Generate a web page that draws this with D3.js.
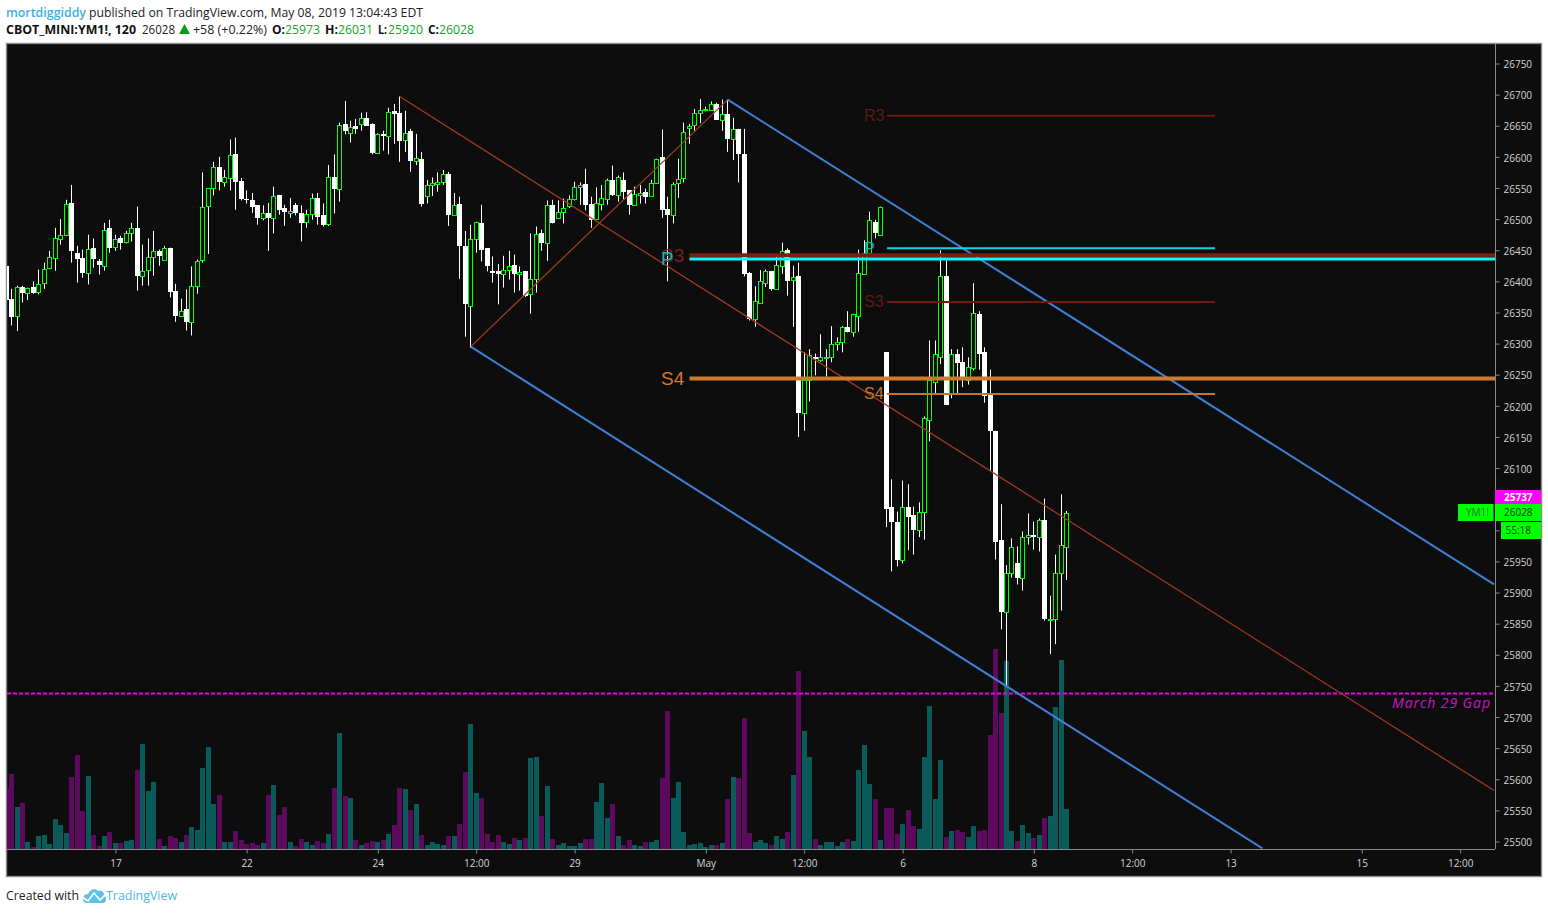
<!DOCTYPE html>
<html>
<head>
<meta charset="utf-8">
<title>YM1! 120</title>
<script src="https://cdnjs.cloudflare.com/ajax/libs/d3/7.8.5/d3.min.js"></script>
<style>
html,body{margin:0;padding:0;background:#fff;overflow:hidden}
svg{display:block}
text{font-family:"Open Sans","Noto Sans",sans-serif}
</style>
</head>
<body>
<script>
const opens=[26425,26371,26344,26391,26382,26391,26383,26397,26421,26437,
26468,26474,26526,26446,26438,26413,26453,26432,26425,26485,
26455,26469,26464,26477,26486,26408,26418,26439,26449,26435,
26454,26385,26345,26355,26335,26392,26434,26521,26550,26583,
26559,26566,26604,26562,26533,26531,26522,26501,26510,26501,
26539,26518,26510,26523,26510,26495,26508,26534,26506,26492,
26568,26549,26652,26639,26649,26652,26662,26653,26607,26637,
26633,26673,26671,26627,26641,26594,26597,26537,26555,26557,
26559,26573,26507,26525,26457,26361,26468,26494,26453,26417,
26417,26411,26419,26427,26411,26416,26380,26403,26478,26461,
26523,26501,26511,26521,26532,26552,26557,26525,26500,26525,
26533,26563,26538,26563,26547,26522,26538,26544,26537,26558,
26599,26517,26506,26558,26566,26647,26651,26670,26675,26676,
26685,26660,26669,26628,26645,26605,26414,26339,26366,26398,
26416,26387,26424,26450,26402,26408,26188,26242,26278,26273,
26277,26278,26300,26302,26326,26318,26345,26411,26446,26496,
26475,26286,26037,26014,25952,26037,26024,26001,26029,26178,
26239,26279,26409,26220,26284,26270,26242,26260,26347,26286,
26217,26160,25984,25868,25932,25948,25923,25990,25992,25989,
26017,25857,25857,25931,25973];
const closes=[26370,26343,26391,26382,26389,26381,26396,26420,26439,26470,
26474,26524,26448,26436,26414,26452,26436,26427,26483,26454,
26468,26462,26478,26486,26409,26417,26439,26449,26440,26454,
26383,26345,26352,26334,26393,26433,26520,26550,26584,26560,
26568,26603,26560,26533,26530,26520,26501,26510,26501,26537,
26515,26512,26513,26509,26494,26508,26534,26504,26491,26568,
26549,26651,26641,26648,26645,26662,26650,26607,26637,26634,
26672,26669,26626,26638,26594,26598,26525,26555,26558,26560,
26572,26506,26523,26456,26363,26468,26495,26451,26424,26414,
26412,26418,26425,26411,26415,26377,26404,26476,26461,26523,
26493,26511,26518,26532,26552,26555,26522,26499,26526,26534,
26563,26538,26567,26544,26522,26540,26542,26536,26558,26597,
26515,26506,26556,26564,26640,26650,26671,26675,26677,26685,
26660,26669,26629,26644,26604,26411,26340,26368,26401,26416,
26387,26426,26449,26400,26407,26188,26242,26281,26276,26278,
26278,26300,26303,26326,26318,26347,26414,26446,26498,26477,
26519,26034,26014,25952,26037,26022,26001,26030,26180,26241,
26283,26409,26202,26283,26268,26241,26262,26349,26284,26215,
26159,25982,25868,25932,25973,25923,25990,25993,25989,26017,
25857,25858,25932,25976,26028];
const highs=[26428,26388,26393,26393,26390,26400,26419,26430,26449,26486,
26500,26531,26555,26457,26451,26475,26469,26436,26494,26499,
26475,26473,26481,26494,26520,26459,26469,26481,26451,26457,
26454,26396,26372,26387,26424,26435,26575,26550,26592,26600,
26579,26628,26631,26566,26546,26542,26522,26522,26526,26552,
26539,26523,26534,26526,26522,26515,26541,26542,26525,26587,
26604,26655,26690,26658,26661,26671,26672,26654,26638,26642,
26679,26685,26697,26674,26645,26637,26608,26563,26567,26575,
26579,26576,26542,26536,26481,26491,26496,26523,26453,26440,
26428,26441,26449,26443,26424,26416,26477,26488,26483,26530,
26531,26530,26533,26538,26560,26559,26581,26536,26551,26555,
26565,26586,26570,26575,26547,26552,26555,26549,26563,26597,
26644,26536,26559,26597,26655,26653,26677,26693,26681,26689,
26687,26692,26692,26663,26645,26645,26415,26392,26418,26419,
26417,26439,26462,26453,26425,26430,26286,26291,26284,26315,
26291,26328,26310,26328,26352,26348,26451,26466,26512,26499,
26520,26286,26082,26030,26080,26074,26038,26045,26183,26305,
26305,26450,26434,26291,26291,26294,26278,26397,26352,26294,
26258,26160,26042,25944,25987,25974,25998,26027,26014,26019,
26051,25895,25961,26058,26031];
const lows=[26360,26329,26320,26366,26370,26380,26379,26388,26420,26417,
26459,26474,26430,26398,26406,26395,26422,26411,26417,26446,
26449,26451,26461,26464,26385,26393,26393,26409,26425,26435,
26374,26335,26345,26321,26313,26380,26430,26444,26538,26546,
26552,26546,26515,26530,26525,26510,26491,26498,26449,26477,
26507,26489,26502,26506,26464,26486,26499,26491,26488,26489,
26509,26528,26636,26623,26637,26642,26650,26604,26605,26610,
26604,26621,26592,26608,26576,26587,26520,26525,26537,26544,
26555,26489,26506,26404,26311,26293,26446,26432,26416,26398,
26363,26390,26403,26382,26385,26375,26348,26382,26449,26433,
26493,26501,26493,26518,26530,26523,26514,26486,26499,26514,
26523,26537,26528,26531,26507,26522,26525,26525,26536,26557,
26502,26400,26493,26534,26559,26621,26642,26654,26673,26676,
26660,26642,26608,26595,26559,26408,26337,26327,26365,26391,
26385,26387,26412,26377,26327,26150,26160,26207,26249,26271,
26247,26270,26289,26286,26318,26311,26319,26411,26446,26469,
26474,26005,25934,25942,25947,25968,25961,25989,25985,26143,
26220,26267,26202,26212,26218,26230,26234,26257,26258,26205,
26095,25953,25841,25748,25924,25913,25903,25977,25969,25966,
25855,25801,25817,25871,25920];
const volumes=[184,226,127,139,22,7,40,43,16,91,
73,49,217,283,115,220,43,10,40,52,
19,19,25,28,238,316,175,202,31,10,
40,34,22,43,67,58,244,307,136,163,
22,22,55,28,16,19,13,19,163,193,
103,127,22,10,31,22,13,25,19,46,
184,349,160,154,28,13,19,25,22,28,
46,73,184,181,118,136,43,13,22,16,
13,40,40,76,232,376,169,154,46,22,
43,22,16,34,28,34,274,277,100,190,
31,13,19,10,10,19,31,31,142,199,
94,136,40,13,28,13,10,22,22,28,
214,415,154,202,52,13,16,19,7,13,
13,19,151,217,214,394,49,22,28,19,
13,40,31,52,223,535,355,277,31,13,
22,22,10,22,31,25,238,313,196,151,
28,124,124,46,76,118,70,61,277,430,
151,268,37,55,58,52,37,70,55,58,
343,601,409,565,55,25,73,49,34,43,
94,100,427,568,121];

const priceTicks=d3.range(25500,26751,50);
const priceTicksUnderTags=[26000,26050];
const timeTickBars=[20,44,68,86,104,128,146,164,188,206,224,248,266];
const timeTickLabels=["17","22","24","12:00","29","May","12:00","6","8","12:00","13","15","12:00"];

// drawings in (bar, price)
const channelUpper=[[132,26692],[272.2,25913]];
const channelLower=[[85,26295],[229.8,25489]];
const channelMedian=[[72,26697],[272.2,25582]];
const channelBase=[[85,26295],[132,26692]];
const weeklyLevels=[
 {label:"S3",price:26442,color:"#7a1f12",w:4,labelColor:"#7a1f12"},
 {label:"P",price:26436,color:"#00ffff",w:3,labelColor:"#12b4c0"},
 {label:"S4",price:26244,color:"#cc7a2e",w:4,labelColor:"#d07a2c"}];
const dailyLevels=[
 {label:"R3",price:26666,color:"#6a1c10",labelColor:"#5e1c12"},
 {label:"P",price:26453,color:"#00dcdc",labelColor:"#12b4c0"},
 {label:"S3",price:26367,color:"#6a1c10",labelColor:"#5e1c12"},
 {label:"S4",price:26219,color:"#c4742c",labelColor:"#c4742c"}];
const gapPrice=25737, gapLabel="March 29 Gap", lastPrice=26028;

const W=1548,H=913;
const plot={l:7,r:1495,t:44,b:849};
const x=d3.scaleLinear().domain([0,194]).range([6.1,1066.6]);
const y=d3.scaleLinear().domain([25500,26750]).range([841.5,63.5]);
const vol=d3.scaleLinear().domain([0,601]).range([849,649]);
const bg="#0d0d0d";

const svg=d3.select("body").append("svg").attr("width",W).attr("height",H);
svg.append("rect").attr("x",6.5).attr("y",43.5).attr("width",1535).attr("height",833)
  .attr("fill",bg).attr("stroke","#8a8a8a").attr("stroke-width",1.4);
svg.append("clipPath").attr("id","plot").append("rect")
  .attr("x",plot.l).attr("y",plot.t).attr("width",plot.r-plot.l).attr("height",plot.b-plot.t);
const g=svg.append("g").attr("clip-path","url(#plot)");
const idx=d3.range(opens.length);
const up=i=>closes[i]>=opens[i];
const px=i=>Math.round(x(i)-2.5);

// volume
g.append("g").selectAll("rect").data(idx).join("rect")
  .attr("x",px).attr("width",5)
  .attr("y",i=>Math.round(vol(volumes[i]))).attr("height",i=>plot.b-Math.round(vol(volumes[i])))
  .attr("fill",i=>up(i)?"#0a5a5a":"#5c0a5e");

// wicks
g.append("g").selectAll("line").data(idx).join("line")
  .attr("x1",i=>px(i)+2.5).attr("x2",i=>px(i)+2.5)
  .attr("y1",i=>y(highs[i])).attr("y2",i=>y(lows[i]))
  .attr("stroke","#ffffff").attr("stroke-width",1);

// bodies
g.append("g").selectAll("rect").data(idx).join("rect")
  .attr("x",i=>up(i)?px(i)+0.5:px(i))
  .attr("width",i=>up(i)?4:5)
  .attr("y",i=>{const t=Math.round(y(Math.max(opens[i],closes[i])));return up(i)?t+0.5:t;})
  .attr("height",i=>{
     const t=Math.round(y(Math.max(opens[i],closes[i]))),b=Math.round(y(Math.min(opens[i],closes[i])));
     return Math.max(b-t,1);})
  .attr("fill",i=>up(i)?bg:"#ffffff")
  .attr("stroke",i=>up(i)?"#00ff00":"none").attr("stroke-width",1);

// gap line
g.append("line").attr("x1",plot.l).attr("x2",plot.r).attr("y1",y(gapPrice)-0.5).attr("y2",y(gapPrice)-0.5)
  .attr("stroke","#e600e6").attr("stroke-width",2).attr("stroke-dasharray","4 2");
svg.append("text").attr("x",1392).attr("y",708)
  .attr("font-size",14).attr("font-style","italic").attr("fill","#c814c8")
  .attr("textLength",98).attr("lengthAdjust","spacing").text(gapLabel);

// channel
const line=d3.line().x(d=>x(d[0])).y(d=>y(d[1]));
g.append("path").attr("d",line(channelMedian)).attr("fill","none").attr("stroke","#a83a20").attr("stroke-width",1.2);
g.append("path").attr("d",line(channelBase)).attr("fill","none").attr("stroke","#a83a20").attr("stroke-width",1.2);
g.append("path").attr("d",line(channelUpper)).attr("fill","none").attr("stroke","#3f7fd4").attr("stroke-width",2);
g.append("path").attr("d",line(channelLower)).attr("fill","none").attr("stroke","#3f7fd4").attr("stroke-width",2);

// pivots
const levelFont="'Liberation Sans',sans-serif";
weeklyLevels.forEach(d=>{
  g.append("line").attr("x1",689.5).attr("x2",plot.r).attr("y1",y(d.price)).attr("y2",y(d.price))
    .attr("stroke",d.color).attr("stroke-width",d.w);
  svg.append("text").attr("x",661).attr("y",y(d.price)+6.5).attr("font-size",19)
    .style("font-family",levelFont).attr("fill",d.labelColor).text(d.label);
});
dailyLevels.forEach(d=>{
  g.append("line").attr("x1",887).attr("x2",1215).attr("y1",y(d.price)).attr("y2",y(d.price))
    .attr("stroke",d.color).attr("stroke-width",2);
  svg.append("text").attr("x",864).attr("y",y(d.price)+5.5).attr("font-size",16)
    .style("font-family",levelFont).attr("fill",d.labelColor).text(d.label);
});

// axes
const yAxis=d3.axisRight(y).tickValues(priceTicks).tickSize(4).tickPadding(4)
  .tickFormat(d=>priceTicksUnderTags.includes(d)?"":d3.format("d")(d));
const ya=svg.append("g").attr("transform",`translate(${plot.r+.5},0)`).call(yAxis);
const xAxis=d3.axisBottom(x).tickValues(timeTickBars).tickSize(4).tickPadding(6)
  .tickFormat(d=>timeTickLabels[timeTickBars.indexOf(d)]);
const xa=svg.append("g").attr("transform",`translate(0,${plot.b+.5})`).call(xAxis);
[ya,xa].forEach(a=>{
  a.select(".domain").attr("stroke","#8a8a8a");
  a.selectAll(".tick line").attr("stroke","#8a8a8a");
  a.selectAll(".tick text").attr("fill","#d4d4d4").attr("font-size",10)
   .style("font-family","'Open Sans',sans-serif").attr("font-weight",500);
});
ya.selectAll(".tick text").attr("dy","0.42em");
ya.select(".domain").attr("d",`M0,${plot.t}V${plot.b}`);
xa.select(".domain").attr("d",`M${plot.l},0H${plot.r}`);

// price tags
function tag(x0,x1,y0,y1,fill,txt,color,tx,bold){
  svg.append("rect").attr("x",x0).attr("y",y0).attr("width",x1-x0).attr("height",y1-y0).attr("fill",fill);
  svg.append("text").attr("x",tx).attr("y",(y0+y1)/2+3.6).attr("font-size",10)
    .attr("font-weight",bold?700:500).attr("fill",color).text(txt);
}
tag(1495,1541,490,504,"#ff00ff",String(gapPrice),"#ffffff",1504,true);
tag(1495,1541,504,521,"#00ff00",String(lastPrice),"#0b3a0b",1504,false);
tag(1458,1493.5,504,521,"#00ff00","YM1!","#2a7a2a",1466,false);
tag(1501,1541,522,539,"#00ff00","55:18","#0b3a0b",1505.5,false);

// header
function hdr(tx,ty,txt,len,color,weight){
  svg.append("text").attr("x",tx).attr("y",ty).attr("font-size",12)
    .attr("textLength",len).attr("lengthAdjust","spacingAndGlyphs")
    .attr("fill",color).attr("font-weight",weight||400).text(txt);
}
hdr(6,17,"mortdiggiddy",80,"#3bb0e4",600);
hdr(89,17,"published on TradingView.com, May 08, 2019 13:04:43 EDT",334,"#222");
const hy=34;
hdr(6,hy,"CBOT_MINI:YM1!, 120",130,"#111",700);
hdr(142,hy,"26028",33,"#222");
svg.append("path").attr("d",d3.line()([[179,hy],[190,hy],[184.5,hy-10]])+"Z").attr("fill","#0a9a1e");
hdr(193,hy,"+58 (+0.22%)",74,"#222");
[["O:",272,13,"25973",285],["H:",325,13,"26031",338],["L:",378,9,"25920",388],["C:",428,11,String(lastPrice),439]]
 .forEach(d=>{hdr(d[1],hy,d[0],d[2],"#111",700);hdr(d[4],hy,d[3],35,"#12a52a");});

// footer
hdr(6,900,"Created with",73,"#222");
const lg=svg.append("g").attr("transform","translate(82,888)");
lg.append("path").attr("d","M1,11 C1,7 4,6 6,6 C8,1 13,0 16,3 C19,1 23,5 22,8 C25,9 25,15 21,15 L4,15 C2,15 1,13 1,11Z").attr("fill","#5cc2ea");
lg.append("path").attr("d","M0,9 L6,13 L12,5 L18,12 L24,6").attr("fill","none").attr("stroke","#fff").attr("stroke-width",1.6);
hdr(106,900,"TradingView",71,"#4cb6e6");
</script>
</body>
</html>
